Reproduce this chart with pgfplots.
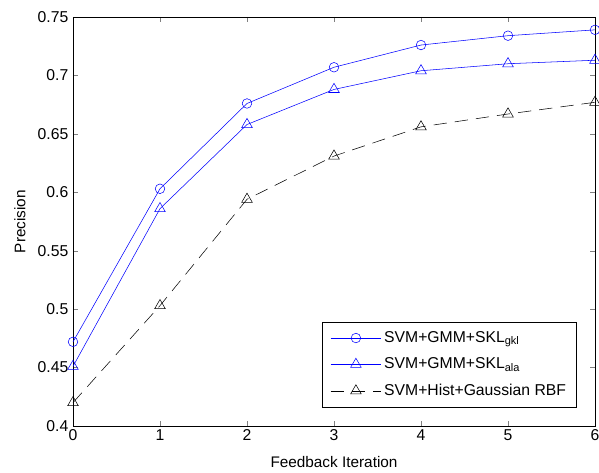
\documentclass[border=0pt]{standalone}
\usepackage{pgfplots}
\pgfplotsset{compat=1.18}
\usepackage{fontspec}
\setmainfont{Liberation Sans}

\begin{document}
\begin{tikzpicture}
  \begin{axis}[
      width=391.5pt, height=306.75pt,
      scale only axis,
      xmin=0, xmax=6,
      ymin=0.4, ymax=0.75,
      xtick={0,1,2,3,4,5,6},
      ytick={0.4,0.45,0.5,0.55,0.6,0.65,0.7,0.75},
      yticklabels={0.4,0.45,0.5,0.55,0.6,0.65,0.7,0.75},
      tick align=inside,
      major tick length=3.75pt,
      /pgf/number format/assume math mode=true,
      tick label style={font=\fontsize{11.8}{13}\selectfont},
      xticklabel style={yshift=1pt},
      xlabel={Feedback Iteration},
      ylabel={Precision},
      xlabel style={font=\fontsize{11.5}{13}\selectfont,
        at={(axis description cs:0.5,-0.088)}, anchor=center},
      ylabel style={font=\fontsize{11.5}{13}\selectfont,
        at={(axis description cs:-0.1015,0.5)}, anchor=center, rotate=0},
      legend style={at={(0.9655,0.046)}, anchor=south east,
        font=\fontsize{11.8}{13}\selectfont, draw=black,
        row sep=6pt, inner xsep=6pt, inner ysep=5pt},
      legend cell align=left,
      legend image code/.code={
        \draw[mark repeat=2, mark phase=2]
          plot coordinates {(0pt,0pt) (19pt,0pt) (38pt,0pt)};
      },
    ]
    \addplot[blue, mark=o, mark size=3.6pt] coordinates {
      (0,0.472) (1,0.603) (2,0.676) (3,0.707) (4,0.726) (5,0.734) (6,0.739)
    };
    \addlegendentry{SVM+GMM+SKL\textsubscript{gkl}}
    \addplot[blue, mark=triangle, mark size=4.6pt] coordinates {
      (0,0.451) (1,0.586) (2,0.658) (3,0.688) (4,0.704) (5,0.710) (6,0.713)
    };
    \addlegendentry{SVM+GMM+SKL\textsubscript{ala}}
    \addplot[black, mark=triangle, mark size=4.6pt, mark options={solid},
      dash pattern=on 10pt off 6pt] coordinates {
      (0,0.420) (1,0.503) (2,0.594) (3,0.631) (4,0.656) (5,0.667) (6,0.677)
    };
    \addlegendentry{SVM+Hist+Gaussian RBF}
  \end{axis}
  \pgfresetboundingbox
  \path ([xshift=-54.75pt,yshift=-35.25pt]current axis.south west)
    rectangle ([xshift=3pt,yshift=12.75pt]current axis.north east);
\end{tikzpicture}
\end{document}
